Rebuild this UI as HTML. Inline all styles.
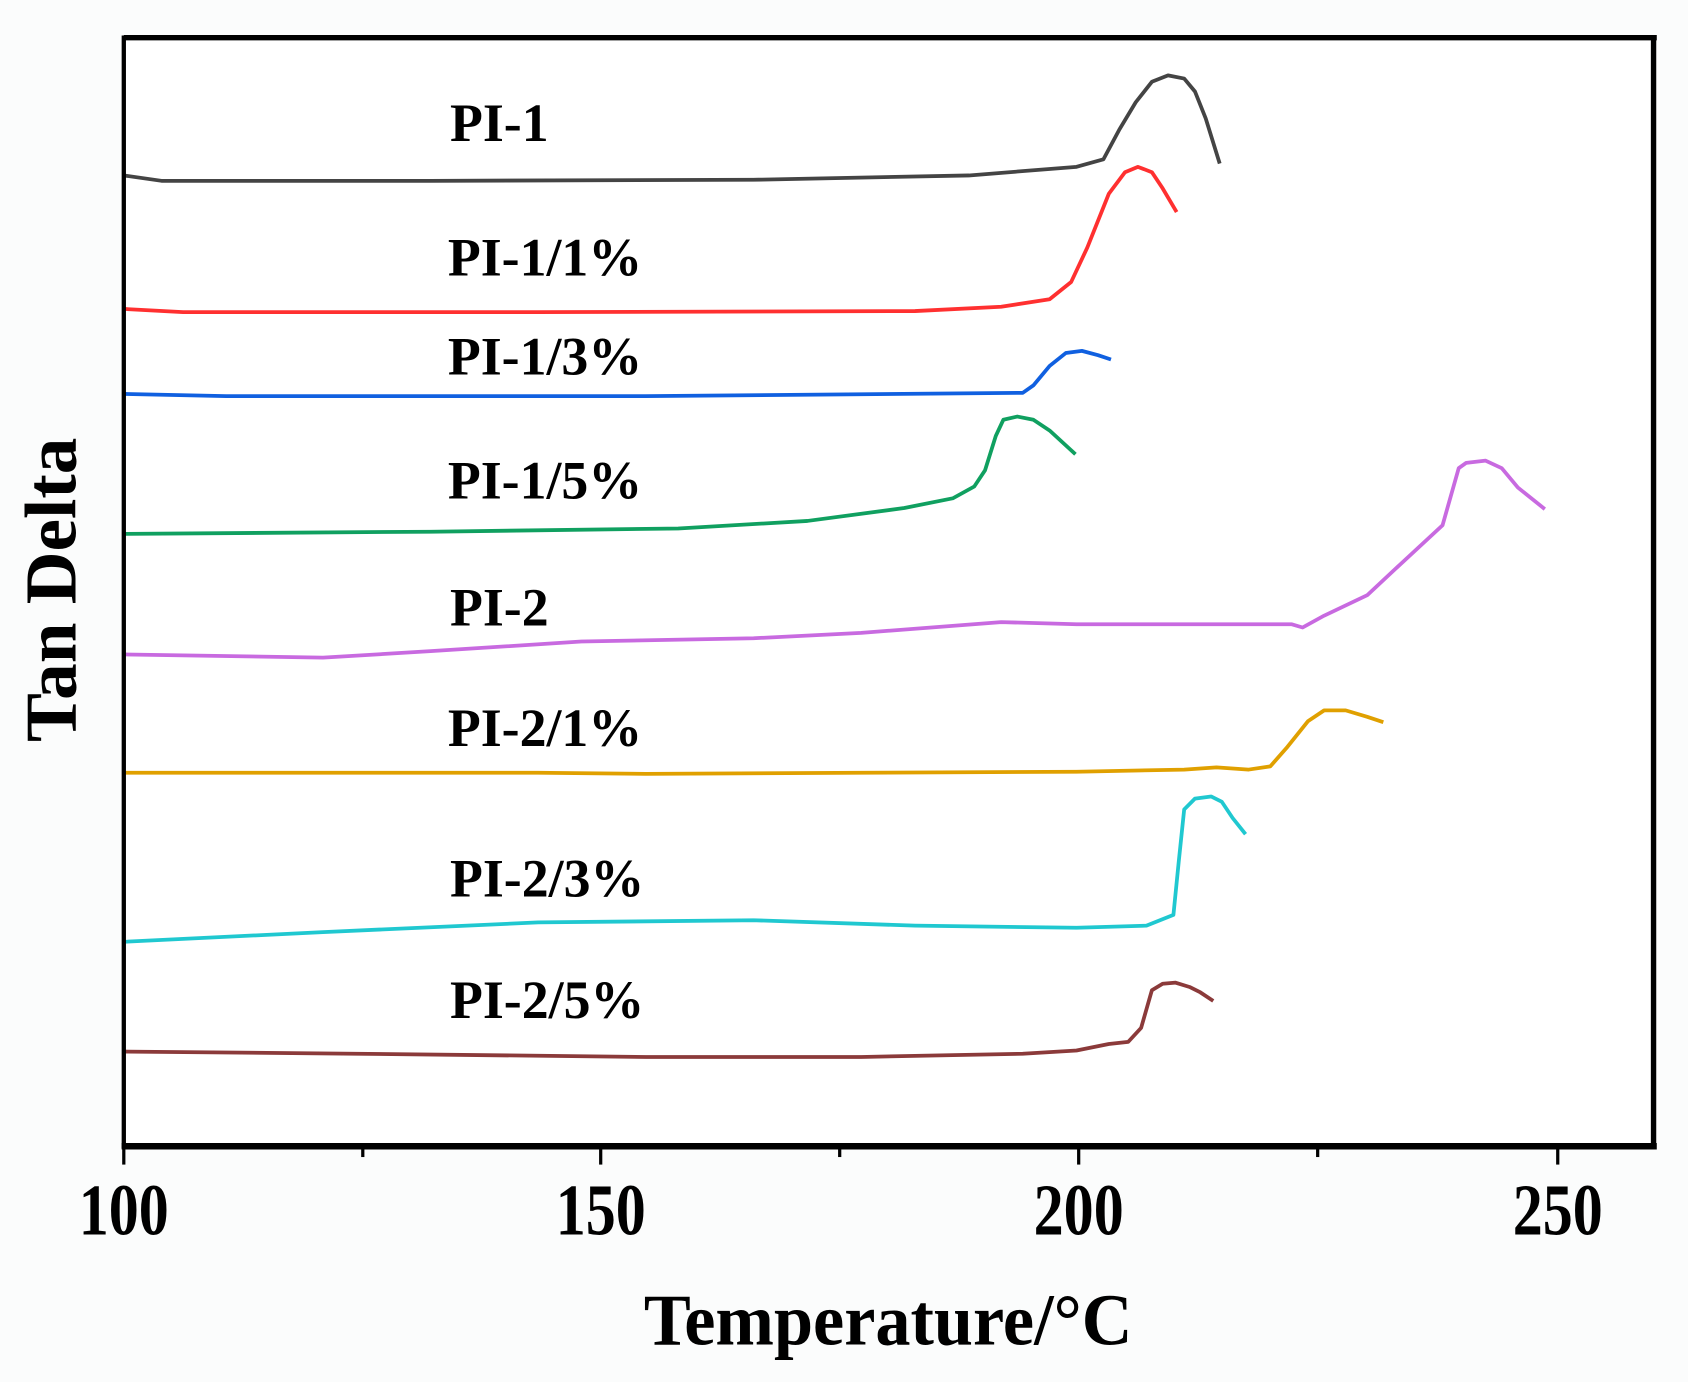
<!DOCTYPE html>
<html><head><style>html,body{margin:0;padding:0;background:#fff}svg{display:block}</style></head>
<body>
<svg width="1688" height="1382" viewBox="0 0 1568 1284" preserveAspectRatio="none" xmlns="http://www.w3.org/2000/svg">
<rect width="1568" height="1284" fill="#fbfcfc"/>
<rect x="115" y="35" width="1422" height="1030" fill="#fff"/>
<g fill="none" stroke-width="3.5" stroke-linejoin="round">
<polyline stroke="#444" points="115,163 150,168 400,168 700,167 900,163 1000,155 1025,148 1040,120 1055,95 1070,76 1085,70 1100,73 1110,85 1120,110 1133,152"/>
<polyline stroke="#ff3030" points="115,287 170,290 500,290 850,289 930,285 975,278 995,262 1010,230 1030,180 1045,160 1057,155 1070,160 1080,175 1093,197"/>
<polyline stroke="#1060e0" points="115,366 210,368 600,368 950,365 960,358 975,340 990,328 1005,326 1020,330 1032,334"/>
<polyline stroke="#10a060" points="115,496 400,494 630,491 750,484 840,472 885,463 905,452 915,437 925,405 932,390 945,387 960,390 975,400 999,422"/>
<polyline stroke="#c86ae0" points="115,608 300,611 400,605 540,596 700,593 800,588 930,578 1000,580 1100,580 1200,580 1210,583 1230,572 1270,553 1300,525 1340,488 1355,435 1362,430 1380,428 1395,435 1410,453 1435,473"/>
<polyline stroke="#e0a000" points="115,718 500,718 600,719 800,718 1000,717 1100,715 1130,713 1160,715 1180,712 1195,695 1215,670 1230,660 1250,660 1270,666 1285,671"/>
<polyline stroke="#20c8d0" points="115,875 300,866 500,857 700,855 850,860 1000,862 1065,860 1090,850 1095,800 1100,752 1110,742 1125,740 1135,745 1145,760 1157,775"/>
<polyline stroke="#8b3a3a" points="115,977 330,979 600,982 800,982 950,979 1000,976 1030,970 1048,968 1060,955 1070,920 1080,914 1092,913 1105,917 1115,922 1127,930"/>
</g>
<g stroke="#000" fill="none">
<line x1="115" y1="35" x2="1539" y2="35" stroke-width="5"/>
<line x1="1536" y1="33" x2="1536" y2="1067" stroke-width="5"/>
<line x1="115" y1="33" x2="115" y2="1067" stroke-width="4"/>
<line x1="113" y1="1065" x2="1539" y2="1065" stroke-width="6"/>
<g stroke-width="3">
<line x1="115" y1="1065" x2="115" y2="1082"/><line x1="337" y1="1065" x2="337" y2="1075"/>
<line x1="558" y1="1065" x2="558" y2="1082"/><line x1="780" y1="1065" x2="780" y2="1075"/>
<line x1="1002" y1="1065" x2="1002" y2="1082"/><line x1="1224" y1="1065" x2="1224" y2="1075"/>
<line x1="1447" y1="1065" x2="1447" y2="1082"/>
</g></g>
<g font-family="Liberation Serif, serif" font-weight="bold" fill="#000">
<g font-size="68" text-anchor="middle">
<text transform="translate(115,1147) scale(0.82,1)">100</text>
<text transform="translate(558,1147) scale(0.82,1)">150</text>
<text transform="translate(1002,1147) scale(0.82,1)">200</text>
<text transform="translate(1447,1147) scale(0.82,1)">250</text>
</g>
<text transform="translate(825,1249) scale(0.96,1)" font-size="68" text-anchor="middle">Temperature/°C</text>
<text transform="translate(70,548) rotate(-90)" font-size="68" text-anchor="middle">Tan Delta</text>
<g font-size="50">
<text x="418" y="131">PI-1</text>
<text x="416" y="256">PI-1/1%</text>
<text x="416" y="348">PI-1/3%</text>
<text x="416" y="463">PI-1/5%</text>
<text x="418" y="581">PI-2</text>
<text x="416" y="693">PI-2/1%</text>
<text x="418" y="833">PI-2/3%</text>
<text x="418" y="946">PI-2/5%</text>
</g></g>
</svg>
</body></html>
